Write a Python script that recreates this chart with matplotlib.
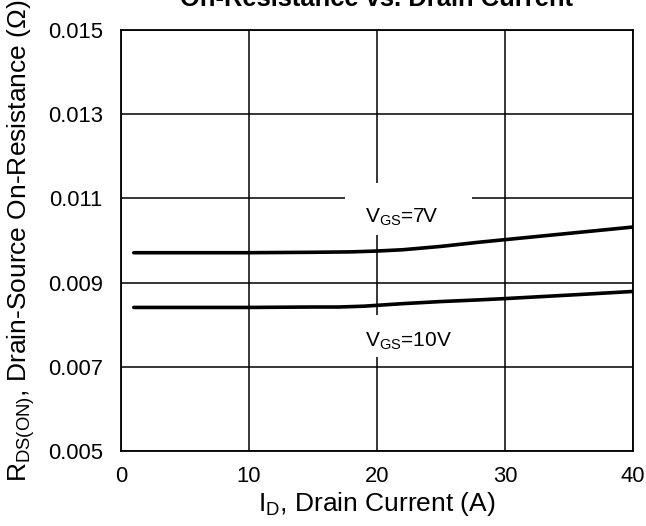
import matplotlib
matplotlib.use("Agg")
import matplotlib.pyplot as plt
from matplotlib.patches import Rectangle

plt.rcParams['font.family'] = ['Liberation Sans', 'DejaVu Sans']
plt.rcParams['mathtext.fontset'] = 'custom'
plt.rcParams['mathtext.rm'] = 'Liberation Sans'
plt.rcParams['mathtext.it'] = 'Liberation Sans'

# Data
id_7v = [1, 5, 10, 15, 18, 20, 22, 25, 28, 30, 33, 36, 40]
rds_7v = [0.00971, 0.00971, 0.00971, 0.00972, 0.00973, 0.00975, 0.00978, 0.00986, 0.00996, 0.01002, 0.01011, 0.01020, 0.01032]
id_10v = [1, 5, 10, 15, 17, 19, 20, 22, 25, 28, 30, 33, 36, 40]
rds_10v = [0.00841, 0.00841, 0.00841, 0.00842, 0.00842, 0.00844, 0.00846, 0.00850, 0.00855, 0.00859, 0.00862, 0.00867, 0.00872, 0.00879]
xticks = [0, 10, 20, 30, 40]
yticks = [0.005, 0.007, 0.009, 0.011, 0.013, 0.015]
ytick_labels = ['0.005', '0.007', '0.009', '0.011', '0.013', '0.015']

fig = plt.figure(figsize=(6.46, 5.26), dpi=100)
ax = fig.add_axes([121/646, 1-451/526, 512/646, 421/526])

ax.set_xlim(0, 40)
ax.set_ylim(0.005, 0.015)
ax.set_xticks(xticks)
ax.set_xticklabels([str(t) for t in xticks])
ax.set_yticks(yticks)
ax.set_yticklabels(ytick_labels)
ax.tick_params(length=0, labelsize=15.8)
ax.tick_params(axis='y', pad=13)
ax.tick_params(axis='x', pad=11)
ax.grid(True, color='black', linewidth=1.1)
ax.set_axisbelow(True)
for s in ax.spines.values():
    s.set_linewidth(1.3)
    s.set_zorder(5)

ax.plot(id_7v, rds_7v, color='black', linewidth=2.6, solid_capstyle='round', zorder=3)
ax.plot(id_10v, rds_10v, color='black', linewidth=2.6, solid_capstyle='round', zorder=3)

# label boxes (white background covering grid)
ax.add_patch(Rectangle((0.4375, 0.5131), 0.248, 0.1235, transform=ax.transAxes,
                       facecolor='white', edgecolor='none', zorder=2))
ax.add_patch(Rectangle((0.4375, 0.2233), 0.248, 0.0997, transform=ax.transAxes,
                       facecolor='white', edgecolor='none', zorder=2))
ax.text(0.4766, 0.5416, r'V$_{\mathregular{GS}}$=7V', transform=ax.transAxes,
        fontsize=15, ha='left', va='baseline', zorder=4)
ax.text(0.4766, 0.247, r'V$_{\mathregular{GS}}$=10V', transform=ax.transAxes,
        fontsize=15, ha='left', va='baseline', zorder=4)

ax.set_xlabel(r'I$_{\mathregular{D}}$, Drain Current (A)', fontsize=19, labelpad=2)
ax.set_ylabel(r'R$_{\mathregular{DS(ON)}}$, Drain-Source On-Resistance (Ω)', fontsize=19, labelpad=8)

fig.text(377/646, 1-6/526, 'On-Resistance vs. Drain Current', fontsize=18.4,
         fontweight='bold', ha='center', va='baseline')

fig.savefig('out.png', dpi=100)
